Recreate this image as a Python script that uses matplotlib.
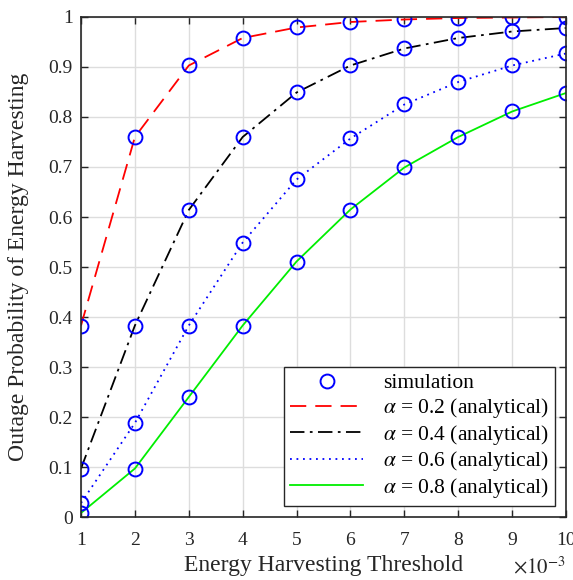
import matplotlib
matplotlib.use("Agg")
import matplotlib.pyplot as plt
from matplotlib.ticker import FuncFormatter
import numpy as np

plt.rcParams['font.family'] = ['Liberation Serif', 'DejaVu Serif']
plt.rcParams['mathtext.fontset'] = 'stix'

threshold = np.array([1, 2, 3, 4, 5, 6, 7, 8, 9, 10]) * 1e-3

p_a02 = [0.383, 0.760, 0.903, 0.958, 0.979, 0.990, 0.995, 0.998, 0.999, 1.000]
p_a04 = [0.097, 0.383, 0.614, 0.760, 0.849, 0.903, 0.937, 0.958, 0.971, 0.978]
p_a06 = [0.028, 0.188, 0.383, 0.549, 0.675, 0.757, 0.825, 0.870, 0.903, 0.927]
p_a08 = [0.008, 0.097, 0.240, 0.383, 0.511, 0.615, 0.699, 0.760, 0.811, 0.848]

labels = [r'$\alpha$ = 0.2 (analytical)', r'$\alpha$ = 0.4 (analytical)',
          r'$\alpha$ = 0.6 (analytical)', r'$\alpha$ = 0.8 (analytical)']

dark = '#262626'

fig = plt.figure(figsize=(5.73, 5.80), dpi=100)
ax = fig.add_axes([0.1414, 0.1086, 0.8464, 0.8621])

lw = 1.3
h_red, = ax.plot(threshold, p_a02, color='red', ls=(0, (9, 5)), lw=lw)
h_blk, = ax.plot(threshold, p_a04, color='black', ls=(0, (8, 3, 1.5, 3)), lw=lw)
h_blu, = ax.plot(threshold, p_a06, color='blue', ls=(0, (1, 2.6)), lw=lw)
h_grn, = ax.plot(threshold, p_a08, color='#00ee00', ls='-', lw=lw)

for p in [p_a02, p_a04, p_a06, p_a08]:
    h_sim, = ax.plot(threshold, p, 'o', mfc='none', mec='blue', ms=10, mew=1.4)

ax.set_xlim(1e-3, 10e-3)
ax.set_ylim(0, 1)
ax.set_xticks(threshold)
ax.xaxis.set_major_formatter(FuncFormatter(lambda v, pos: '%d' % round(v * 1e3)))
ax.set_yticks(np.arange(0, 1.01, 0.1))
ax.set_yticklabels(['0', '0.1', '0.2', '0.3', '0.4', '0.5', '0.6', '0.7', '0.8', '0.9', '1'])
ax.grid(True, color='#dddddd', lw=1.0)
ax.set_axisbelow(True)
ax.tick_params(direction='in', top=True, right=True, length=5, width=1,
               labelsize=14, colors=dark)
ax.tick_params(axis='x', pad=11)
ax.tick_params(axis='y', pad=6)
for s in ax.spines.values():
    s.set_color(dark)
    s.set_linewidth(1.2)

ax.text(1.0, -0.1, r'$\times 10^{-3}$', transform=ax.transAxes, fontsize=15,
        color=dark, ha='right', va='center')

ax.set_xlabel('Energy Harvesting Threshold', fontsize=17, color=dark, labelpad=4)
ax.set_ylabel('Outage Probability of Energy Harvesting', fontsize=17, color=dark, labelpad=14)

leg = ax.legend([h_sim, h_red, h_blk, h_blu, h_grn], ['simulation'] + labels,
                loc='lower right', fontsize=15.5, frameon=True, fancybox=False,
                edgecolor=dark, framealpha=1, borderaxespad=0.5,
                handlelength=3.4, labelspacing=0.12, borderpad=0.3, handletextpad=0.9)
leg.get_frame().set_linewidth(1.0)

fig.savefig('out.png', dpi=100)
